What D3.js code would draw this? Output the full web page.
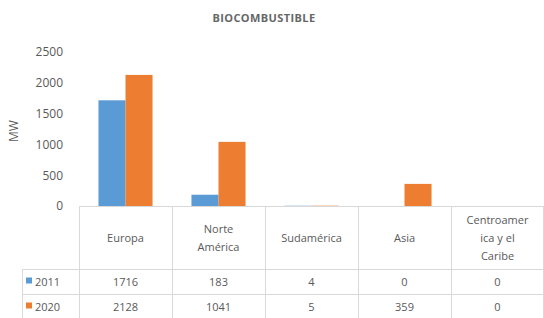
<!DOCTYPE html>
<html><head><meta charset="utf-8">
<script src="https://cdn.jsdelivr.net/npm/d3@7"></script>
<style>
html,body{margin:0;padding:0;background:#fff;}
svg{display:block;font-family:"Open Sans",sans-serif;}
</style></head>
<body>
<svg id="c" width="544" height="318"></svg>
<script>
const title = "BIOCOMBUSTIBLE";
const yLabel = "MW";
const categories = ["Europa", "Norte América", "Sudamérica", "Asia", "Centroamerica y el Caribe"];
const categoryLines = [["Europa"], ["Norte", "América"], ["Sudamérica"], ["Asia"], ["Centroamer", "ica y el", "Caribe"]];
const seriesNames = ["2011", "2020"];
const values2011 = [1716, 183, 4, 0, 0];
const values2020 = [2128, 1041, 5, 359, 0];
const yTicks = [0, 500, 1000, 1500, 2000, 2500];
const colors = ["#5B9BD5", "#ED7D31"];

const series = [values2011, values2020];
const svg = d3.select("#c");
const textColor = "#595959";
const lineColor = "#D9D9D9";

const plotLeft = 79, plotRight = 544, plotTop = 52, plotBottom = 206;
const headerBottom = 269, rowH = 25;

const x = d3.scaleBand().domain(categories).range([plotLeft, plotRight]).paddingInner(0).paddingOuter(0);
const xs = d3.scaleBand().domain(seriesNames).range([0, x.bandwidth()]).paddingInner(0).paddingOuter(0.72);
const y = d3.scaleLinear().domain([0, 2500]).range([plotBottom, plotTop]);

// title
svg.append("text").attr("x", 264).attr("y", 22).attr("text-anchor", "middle")
  .attr("font-size", 11).attr("letter-spacing", 0.4).attr("font-weight", "bold").attr("fill", "#666").text(title);

// y axis
const yAxis = svg.append("g").attr("transform", `translate(${plotLeft - 16},0)`)
  .call(d3.axisLeft(y).tickValues(yTicks).tickFormat(d3.format("d")).tickSize(0).tickPadding(0));
yAxis.select(".domain").remove();
yAxis.selectAll("text").attr("font-size", 12).attr("fill", textColor).attr("font-family", "Open Sans, sans-serif");

svg.append("text").attr("transform", `translate(18,${(plotTop + plotBottom) / 2 + 2}) rotate(-90)`)
  .attr("text-anchor", "middle").attr("font-size", 12).attr("fill", textColor).text(yLabel);

// bars
series.forEach((vals, si) => {
  svg.append("g").selectAll("rect").data(vals).join("rect")
    .attr("x", (d, i) => x(categories[i]) + xs(seriesNames[si]))
    .attr("width", xs.bandwidth())
    .attr("y", d => y(d))
    .attr("height", d => y(0) - y(d))
    .attr("fill", colors[si]);
});

// table lines
const tbl = svg.append("g").attr("stroke", lineColor).attr("stroke-width", 1);
const legendLeft = 22;
tbl.append("line").attr("x1", plotLeft).attr("x2", plotRight).attr("y1", plotBottom + 0.5).attr("y2", plotBottom + 0.5);
[headerBottom, headerBottom + rowH, headerBottom + 2 * rowH].forEach(yy => {
  tbl.append("line").attr("x1", legendLeft).attr("x2", plotRight).attr("y1", yy + 0.5).attr("y2", yy + 0.5);
});
categories.forEach((c, i) => {
  tbl.append("line").attr("x1", Math.round(x(c)) + 0.5).attr("x2", Math.round(x(c)) + 0.5)
    .attr("y1", plotBottom).attr("y2", headerBottom + 2 * rowH);
});
tbl.append("line").attr("x1", plotRight - 0.5).attr("x2", plotRight - 0.5).attr("y1", plotBottom).attr("y2", headerBottom + 2 * rowH);
tbl.append("line").attr("x1", legendLeft + 0.5).attr("x2", legendLeft + 0.5).attr("y1", headerBottom).attr("y2", headerBottom + 2 * rowH);

// header text
categories.forEach((c, i) => {
  const lines = categoryLines[i];
  const lh = 18;
  const cy = (plotBottom + headerBottom) / 2;
  const startY = cy - (lines.length - 1) * lh / 2 + 4;
  lines.forEach((ln, j) => {
    svg.append("text").attr("x", x(c) + x.bandwidth() / 2).attr("y", startY + j * lh)
      .attr("text-anchor", "middle").attr("font-size", 11).attr("fill", textColor).text(ln);
  });
});

// data rows
series.forEach((vals, si) => {
  const ry = headerBottom + si * rowH + rowH / 2 + 4;
  svg.append("rect").attr("x", 26).attr("y", ry - 8).attr("width", 6).attr("height", 6).attr("fill", colors[si]);
  svg.append("text").attr("x", 35).attr("y", ry).attr("font-size", 11).attr("fill", textColor).text(seriesNames[si]);
  vals.forEach((v, i) => {
    svg.append("text").attr("x", x(categories[i]) + x.bandwidth() / 2).attr("y", ry)
      .attr("text-anchor", "middle").attr("font-size", 11).attr("fill", textColor).text(v);
  });
});
</script>
</body></html>
